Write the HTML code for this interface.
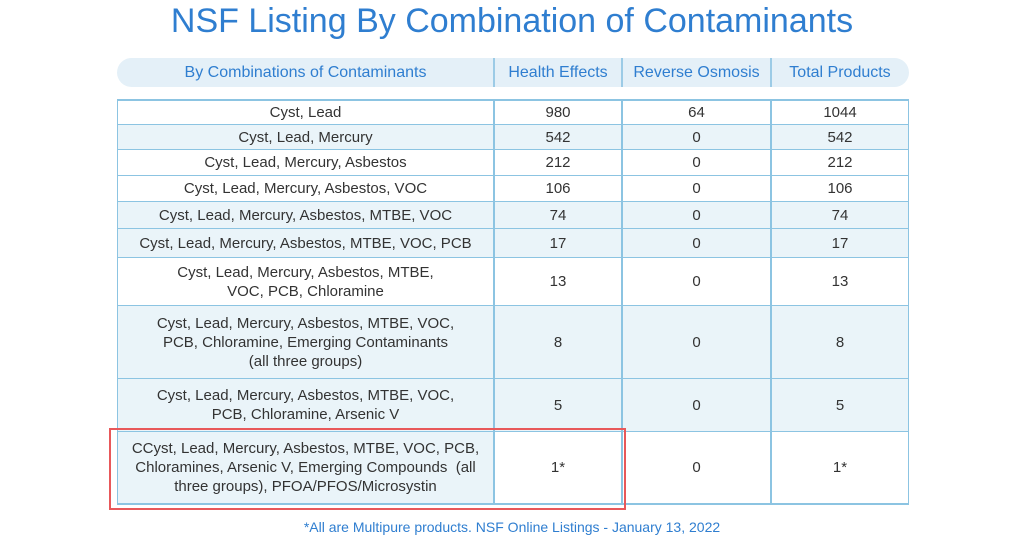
<!DOCTYPE html>
<html><head><style>
*{margin:0;padding:0;box-sizing:border-box}
body{width:1024px;height:538px;background:#fff;position:relative;overflow:hidden;font-family:"Liberation Sans",sans-serif}
.t{position:absolute;left:0;width:1024px;text-align:center;top:0;font-size:34px;color:#2f7ed0;line-height:42px}
.pill{position:absolute;left:117px;top:58px;width:792px;height:29px;background:#e4f0f8;border-radius:15px}
.h{position:absolute;top:58px;height:29px;line-height:29px;text-align:center;color:#2f7ed0;font-size:16px}
.hs{position:absolute;top:58px;height:29px;width:2px;background:#9ccbe6}
.r{position:absolute;left:117px;width:792px;border:1px solid #8cc4e2;border-top:none}
.c{position:absolute;top:0;height:100%;display:flex;align-items:center;justify-content:center;text-align:center;font-size:15px;color:#333;line-height:19px;border-right:2px solid #8cc4e2}
.foot{position:absolute;top:519px;left:0;width:1024px;text-align:center;color:#2f7ed0;font-size:14px}
</style></head><body>
<div class="t">NSF Listing By Combination of Contaminants</div>
<div class="pill"></div>
<div class="h" style="left:117px;width:377px">By Combinations of Contaminants</div>
<div class="h" style="left:494px;width:128px">Health Effects</div>
<div class="h" style="left:622px;width:149px">Reverse Osmosis</div>
<div class="h" style="left:771px;width:138px">Total Products</div>
<div class="hs" style="left:493px"></div><div class="hs" style="left:621px"></div><div class="hs" style="left:770px"></div>
<div id="tb"></div>
<script>
var rows=[
[99,125,'#fff','Cyst, Lead','980','64','1044'],
[125,150,'#eaf4f9','Cyst, Lead, Mercury','542','0','542'],
[150,176,'#fff','Cyst, Lead, Mercury, Asbestos','212','0','212'],
[176,202,'#fff','Cyst, Lead, Mercury, Asbestos, VOC','106','0','106'],
[202,229,'#eaf4f9','Cyst, Lead, Mercury, Asbestos, MTBE, VOC','74','0','74'],
[229,258,'#eaf4f9','Cyst, Lead, Mercury, Asbestos, MTBE, VOC, PCB','17','0','17'],
[258,306,'#fff','Cyst, Lead, Mercury, Asbestos, MTBE,<br>VOC, PCB, Chloramine','13','0','13'],
[306,379,'#eaf4f9','Cyst, Lead, Mercury, Asbestos, MTBE, VOC,<br>PCB, Chloramine, Emerging Contaminants<br>(all three groups)','8','0','8'],
[379,432,'#eaf4f9','Cyst, Lead, Mercury, Asbestos, MTBE, VOC,<br>PCB, Chloramine, Arsenic V','5','0','5'],
[432,504,'#fff','CCyst, Lead, Mercury, Asbestos, MTBE, VOC, PCB,<br>Chloramines, Arsenic V, Emerging Compounds &nbsp;(all<br>three groups), PFOA/PFOS/Microsystin','1*','0','1*']];
var h='';
rows.forEach(function(r,i){
var top=i==0?'border-top:2px solid #8cc4e2;':'';
var lb=i==9?'#eaf4f9':r[2];
h+='<div class="r" style="'+top+'top:'+r[0]+'px;height:'+(r[1]-r[0]+1)+'px;background:'+r[2]+';border-bottom:2px solid #8cc4e2">'+
'<div class="c" style="left:0;width:377px;background:'+lb+'">'+r[3]+'</div>'+
'<div class="c" style="left:377px;width:128px">'+r[4]+'</div>'+
'<div class="c" style="left:505px;width:149px">'+r[5]+'</div>'+
'<div class="c" style="left:654px;width:136px;border-right:none">'+r[6]+'</div></div>';});
document.getElementById('tb').innerHTML=h;
</script>
<div style="position:absolute;left:109px;top:428px;width:517px;height:82px;border:2px solid #e8585a"></div>
<div class="foot">*All are Multipure products. NSF Online Listings - January 13, 2022</div>
</body></html>
